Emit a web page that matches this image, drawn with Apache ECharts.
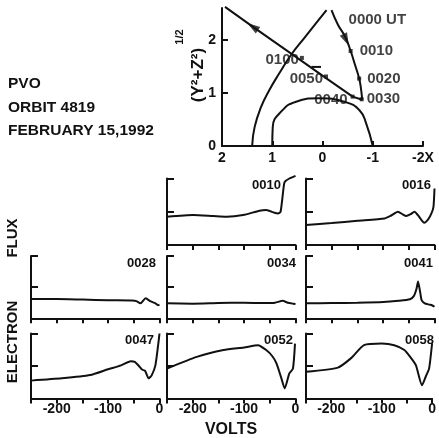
<!DOCTYPE html>
<html>
<head>
<meta charset="utf-8">
<script src="https://cdn.jsdelivr.net/npm/echarts@6/dist/echarts.min.js"></script>
<style>
html,body{margin:0;padding:0;background:#fff;}
#chart{width:439px;height:438px;}
</style>
</head>
<body>
<div id="chart"></div>
<script>
// orbit plot (x, (y2+z2)^1/2 in Venus radii)
var venus = [[1,0],[0.99,0.36],[0.8,0.67],[0.54,0.83],[0.08,0.9],[-0.45,0.83],[-0.74,0.67],[-0.87,0.42],[-1,0]];
var bowShock = [[1.4,0],[1.35,0.36],[1.22,0.74],[1.06,1.05],[0.86,1.37],[0.63,1.71],[0.34,2.06],[0.08,2.37],[-0.08,2.56]];
var orbitIn = [[-0.18,2.56],[-0.31,2.28],[-0.45,2.06],[-0.56,1.79],[-0.65,1.52],[-0.73,1.27],[-0.77,1.05],[-0.79,0.87]];
var orbitOut = [[-0.79,0.87],[-0.6,0.93],[-0.07,1.28],[0.41,1.6],[1.0,1.99],[1.39,2.25],[1.94,2.62]];
var crossDash = [[0.22,1.49],[0.03,1.49]];
var markTimes = ['0010','0020','0030','0040','0050','0100'];
var markX = [-0.56,-0.73,-0.78,-0.6,-0.07,0.41];
var markY = [1.79,1.27,0.88,0.93,1.31,1.66];
var arrowPts = [[-0.47,2.0],[1.39,2.25]];
var orbitYTicks = [0,1,2];

// electron flux spectra, [volts, flux]
var flux0010 = [[-250,0.85],[-199,0.9],[-160,0.87],[-134,0.85],[-102,0.9],[-70,1.03],[-57,1.05],[-41,0.97],[-34,0.95],[-29,1.0],[-23,1.75],[-21,1.9],[-12,2.0],[0,2.08]];
var flux0016 = [[-250,0.6],[-200,0.66],[-150,0.73],[-97,0.8],[-85,0.88],[-71,1.0],[-62,0.92],[-55,0.87],[-46,0.93],[-39,1.0],[-30,0.85],[-20,0.67],[-12,0.78],[-6,0.95],[-2,1.15],[0,1.7]];
var flux0028 = [[-250,0.62],[-200,0.62],[-150,0.6],[-100,0.58],[-53,0.57],[-45,0.55],[-37,0.48],[-27,0.64],[-17,0.54],[-8,0.48],[-3,0.42],[0,0.44]];
var flux0034 = [[-250,0.48],[-200,0.47],[-150,0.49],[-100,0.5],[-60,0.49],[-40,0.5],[-25,0.56],[-15,0.5],[-5,0.47],[0,0.46]];
var flux0041 = [[-250,0.48],[-200,0.49],[-150,0.5],[-100,0.52],[-70,0.56],[-48,0.61],[-40,0.72],[-35,0.95],[-32,1.18],[-28,0.85],[-25,0.58],[-19,0.48],[-10,0.44],[-5,0.42],[0,0.37]];
var flux0047 = [[-250,0.55],[-190,0.62],[-135,0.72],[-100,0.9],[-75,1.02],[-56,1.15],[-48,1.13],[-40,1.0],[-34,0.89],[-28,0.85],[-21,0.62],[-15,0.72],[-8,1.02],[-3,1.6],[0,2.0]];
var flux0052 = [[-250,0.92],[-192,1.28],[-140,1.49],[-100,1.57],[-73,1.64],[-57,1.49],[-45,1.3],[-37,1.08],[-28,0.65],[-21,0.31],[-12,0.77],[-5,0.92],[-1,1.69]];
var flux0058 = [[-250,0.82],[-187,0.95],[-160,1.25],[-135,1.64],[-100,1.69],[-75,1.64],[-55,1.49],[-42,1.25],[-32,1.02],[-20,0.41],[-12,0.7],[-6,0.92],[0,1.7]];
var voltTicks = [-200,-100,0];

var ink = '#111';
var FONT = 'Liberation Sans';

// panel layout: column, row
var panels = [
	{name:'0010', data:flux0010, col:1, row:0},
	{name:'0016', data:flux0016, col:2, row:0},
	{name:'0028', data:flux0028, col:0, row:1},
	{name:'0034', data:flux0034, col:1, row:1},
	{name:'0041', data:flux0041, col:2, row:1},
	{name:'0047', data:flux0047, col:0, row:2},
	{name:'0052', data:flux0052, col:1, row:2},
	{name:'0058', data:flux0058, col:2, row:2}
];
var colLeft = [31, 167, 306];
var colWidth = 128.5;
var rowTop = [178.5, 256, 333.5];
var rowHeight = [66.5, 62.3, 65];
var labelRight = {'0010':281,'0016':431,'0028':156,'0034':296,'0041':433,'0047':154,'0052':293,'0058':434};

var grids = [], xAxes = [], yAxes = [], series = [], graphics = [];

// orbit grid
grids.push({left:222, top:8, width:201, height:138});
xAxes.push({
	type:'value', gridIndex:0, inverse:true, min:-2, max:2, interval:1,
	axisLine:{onZero:false, lineStyle:{color:ink, width:2}},
	axisTick:{inside:true, length:5, lineStyle:{color:ink, width:2}},
	splitLine:{show:false},
	axisLabel:{color:ink, fontFamily:FONT, fontWeight:'bold', fontSize:14, margin:5,
		formatter:function(v){ return v === -2 ? '-2X' : String(v); }}
});
yAxes.push({
	type:'value', gridIndex:0, min:0, max:2.6,
	axisLine:{show:true, onZero:false, lineStyle:{color:ink, width:2}},
	axisTick:{show:true, inside:true, length:6, customValues:[1,2], lineStyle:{color:ink, width:2}},
	splitLine:{show:false},
	axisLabel:{color:ink, fontFamily:FONT, fontWeight:'bold', fontSize:14, margin:6, customValues:orbitYTicks}
});

function orbitLine(data, smooth){
	return {type:'line', xAxisIndex:0, yAxisIndex:0, data:data, smooth:smooth, showSymbol:false,
		lineStyle:{color:ink, width:2}, silent:true, clip:false};
}
series.push(orbitLine(venus, true));
series.push(orbitLine(bowShock, true));
series.push(orbitLine(orbitIn, true));
series.push(orbitLine(orbitOut, false));
series.push(orbitLine(crossDash, false));

var labelSide = ['right','right','right','left','left','left'];
var labelGap = [7,6,3,3,1,1];
var labelShift = [[0,0],[0,0],[0,0],[0,3],[0,2],[0,2]];
var markData = markTimes.map(function(t, i){
	return {value:[markX[i], markY[i]], name:t,
		label:{show:true, position:labelSide[i], distance:labelGap[i], offset:labelShift[i], formatter:t}};
});
series.push({
	type:'scatter', xAxisIndex:0, yAxisIndex:0, symbol:'rect', symbolSize:4,
	itemStyle:{color:ink}, data:markData, silent:true,
	label:{color:ink, fontFamily:FONT, fontWeight:'bold', fontSize:15}
});
series.push({
	type:'scatter', xAxisIndex:0, yAxisIndex:0, symbolSize:0, silent:true,
	data:[{value:orbitIn[0], label:{show:true, formatter:'0000 UT', position:'right', offset:[12,10],
		color:ink, fontFamily:FONT, fontWeight:'bold', fontSize:15}}]
});
series.push({
	type:'scatter', xAxisIndex:0, yAxisIndex:0, symbol:'triangle', symbolSize:[8,13], silent:true,
	itemStyle:{color:ink}, z:5,
	data:[{value:arrowPts[0], symbolRotate:205},{value:arrowPts[1], symbolRotate:56}]
});

// electron flux panels
panels.forEach(function(p, i){
	var gi = i + 1;
	var bottomRow = p.row === 2;
	grids.push({left:colLeft[p.col], top:rowTop[p.row], width:colWidth, height:rowHeight[p.row]});
	xAxes.push({
		type:'value', gridIndex:gi, min:-250, max:0, interval:50,
		axisLine:{onZero:false, lineStyle:{color:ink, width:2}},
		axisTick:{length:5, lineStyle:{color:ink, width:2}},
		splitLine:{show:false},
		axisLabel:{show:bottomRow, color:ink, fontFamily:FONT, fontWeight:'bold', fontSize:14, margin:4,
			customValues:voltTicks}
	});
	yAxes.push({
		type:'value', gridIndex:gi, min:0, max:2, interval:1,
		axisLine:{show:true, onZero:false, lineStyle:{color:ink, width:2}},
		axisTick:{show:true, inside:true, length:7, lineStyle:{color:ink, width:2}},
		splitLine:{show:false},
		axisLabel:{show:false}
	});
	series.push({
		type:'line', xAxisIndex:gi, yAxisIndex:gi, data:p.data, smooth:0.2, showSymbol:false,
		lineStyle:{color:ink, width:2}, silent:true, clip:false
	});
	graphics.push({
		type:'text', x:labelRight[p.name], y:rowTop[p.row] + 7,
		style:{text:p.name, fill:ink, font:'bold 13px "' + FONT + '"', textAlign:'right', textVerticalAlign:'middle'}
	});
});

// titles and axis names
var titleLines = ['PVO', 'ORBIT 4819', 'FEBRUARY 15,1992'];
titleLines.forEach(function(t, i){
	graphics.push({type:'text', x:8, y:[84,108,131][i],
		style:{text:t, fill:ink, font:'bold 15.5px "' + FONT + '"', textAlign:'left', textVerticalAlign:'middle'}});
});
graphics.push({type:'text', x:198, y:75, rotation:Math.PI/2,
	style:{text:'(Y\u00b2+Z\u00b2)', fill:ink, font:'bold 17px "' + FONT + '"', textAlign:'center', textVerticalAlign:'middle'}});
graphics.push({type:'text', x:180, y:37, rotation:Math.PI/2,
	style:{text:'1/2', fill:ink, font:'bold 11px "' + FONT + '"', textAlign:'center', textVerticalAlign:'middle'}});
graphics.push({type:'text', x:13, y:238, rotation:Math.PI/2,
	style:{text:'FLUX', fill:ink, font:'bold 15px "' + FONT + '"', textAlign:'center', textVerticalAlign:'middle'}});
graphics.push({type:'text', x:13, y:342, rotation:Math.PI/2,
	style:{text:'ELECTRON', fill:ink, font:'bold 15px "' + FONT + '"', textAlign:'center', textVerticalAlign:'middle'}});
graphics.push({type:'text', x:231, y:430,
	style:{text:'VOLTS', fill:ink, font:'bold 16px "' + FONT + '"', textAlign:'center', textVerticalAlign:'middle'}});

var chart = echarts.init(document.getElementById('chart'), null, {renderer:'canvas'});
chart.setOption({
	backgroundColor:'#fff',
	animation:false,
	grid:grids,
	xAxis:xAxes,
	yAxis:yAxes,
	series:series,
	graphic:graphics
});
</script>
</body>
</html>
